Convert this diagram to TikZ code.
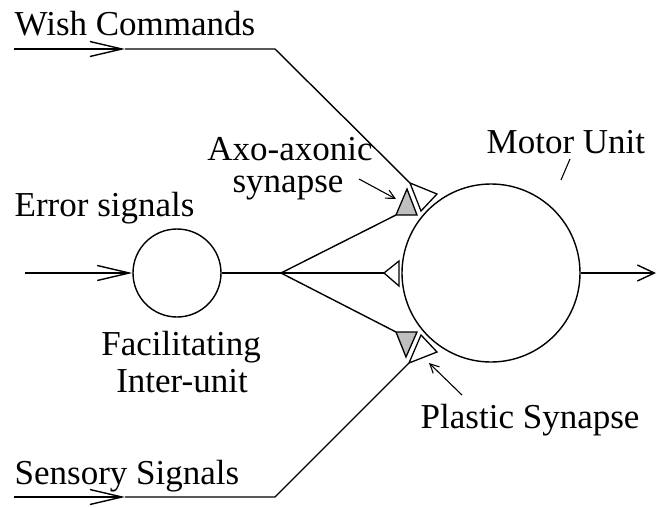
\documentclass[tikz,border=0pt]{standalone}
\usepackage{fontspec}
\setmainfont{Liberation Serif}
\usetikzlibrary{arrows.meta}
\begin{document}
\begin{tikzpicture}[x=1pt,y=-1pt,line width=1.4pt,
  lbl/.style={font=\fontsize{35}{32}\selectfont,inner sep=0pt},
  cell/.style={circle,draw,minimum size=#1,inner sep=0pt},
  chev/.style={-{Straight Barb[length=32pt,width=15pt,line width=1.4pt]}},
  outchev/.style={-{Straight Barb[length=17pt,width=16pt,line width=1.4pt]}},
  pointer/.style={line width=1.1pt,-{Straight Barb[length=9pt,width=9pt,line width=1.1pt]}},
  bouton/.style={draw,fill=white,line width=1.3pt},
  axo/.style={draw,fill=black!25,line width=1.3pt}]
\useasboundingbox (0,0) rectangle (657,507);

% units
\node[cell=88pt]  (fac)   at (177,273) {};
\node[cell=178pt] (motor) at (491,273) {};

% labels
\node[lbl,anchor=base west] (wish)  at (14,35)  {Wish Commands};
\node[lbl,anchor=base west] (err)   at (14,216) {Error signals};
\node[lbl,anchor=base west] (sens)  at (14,484) {Sensory Signals};
\node[lbl,anchor=base]      (axo1)  at (290,160) {Axo-axonic};
\node[lbl,anchor=base]      (axo2)  at (288,192) {synapse};
\node[lbl,anchor=base]      (fac1)  at (181,355) {Facilitating};
\node[lbl,anchor=base]      (fac2)  at (182,392) {Inter-unit};
\node[lbl,anchor=base west] (motl)  at (486,153) {Motor Unit};
\node[lbl,anchor=base west] (plas)  at (420,428) {Plastic Synapse};

% path points
\coordinate (wS) at (14,49);   \coordinate (wA) at (125,49);  \coordinate (wK) at (275,49);
\coordinate (sS) at (14,497);  \coordinate (sA) at (125,497); \coordinate (sK) at (275,497);
\coordinate (eS) at (25,273);
\coordinate (fork) at (281,273);
\coordinate (oE) at (656,273);

% bouton corners: top (wish), middle, bottom (sensory)
\coordinate (tA) at (410,183); \coordinate (tB) at (437,194); \coordinate (tC) at (421,211);
\coordinate (mA) at (384,273); \coordinate (mB) at (399,261); \coordinate (mC) at (399,286);
\coordinate (bA) at (409,363); \coordinate (bB) at (437,352); \coordinate (bC) at (421,335);
% axo-axonic terminals
\coordinate (gA) at (407,189); \coordinate (gB) at (396,215); \coordinate (gC) at (417,215);
\coordinate (hA) at (406,357); \coordinate (hB) at (396,332); \coordinate (hC) at (417,332);

% input lines
\draw[chev] (wS) -- (wA);
\draw (wA) -- (wK) -- (tA);
\draw[chev] (sS) -- (sA);
\draw (sA) -- (sK) -- (bA);
\draw[chev] (eS) -- (fac.west);

% facilitating axon and its branches
\draw (fac.east) -- (fork);
\draw (fork) -- (mA);
\draw (fork) -- (gB);
\draw (fork) -- (hB);

% output
\draw[outchev] (motor.east) -- (oE);

% synaptic terminals
\draw[bouton] (tA) -- (tB) -- (tC) -- cycle;
\draw[bouton] (mA) -- (mB) -- (mC) -- cycle;
\draw[bouton] (bA) -- (bB) -- (bC) -- cycle;
\draw[axo] (gA) -- (gB) -- (gC) -- cycle;
\draw[axo] (hA) -- (hB) -- (hC) -- cycle;

% label pointers
\coordinate (pa1) at (359,179); \coordinate (pa2) at (396,199);
\coordinate (pm1) at (570,159); \coordinate (pm2) at (561,180);
\coordinate (pp1) at (462,395); \coordinate (pp2) at (429,363);
\draw[pointer] (pa1) -- (pa2);
\draw[line width=1.1pt] (pm1) -- (pm2);
\draw[pointer] (pp1) -- (pp2);
\end{tikzpicture}
\end{document}
